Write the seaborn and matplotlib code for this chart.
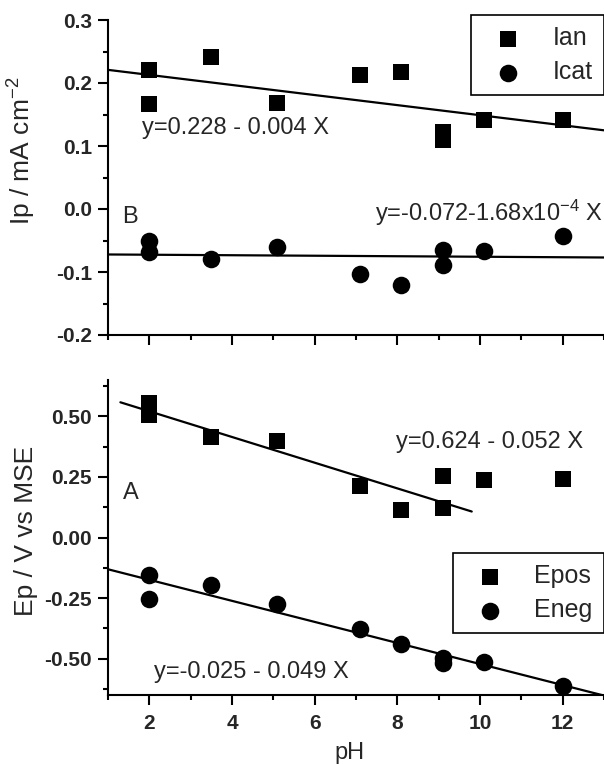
import numpy as np
import pandas as pd
import seaborn as sns
import matplotlib.pyplot as plt
from matplotlib.ticker import MultipleLocator, AutoMinorLocator, FormatStrFormatter

# pH values (same for all four series)
ph = np.array([2, 2, 3.5, 5.1, 7.1, 8.1, 9.1, 9.1, 10.1, 12])

# panel B: peak currents, mA cm-2
ian = np.array([0.221, 0.167, 0.241, 0.169, 0.213, 0.218, 0.123, 0.110, 0.141, 0.141])
icat = np.array([-0.050, -0.068, -0.080, -0.060, -0.103, -0.121, -0.065, -0.089, -0.066, -0.043])

# panel A: peak potentials, V vs MSE
epos = np.array([0.555, 0.507, 0.415, 0.397, 0.214, 0.112, 0.255, 0.121, 0.236, 0.241])
eneg = np.array([-0.154, -0.255, -0.195, -0.274, -0.378, -0.439, -0.498, -0.517, -0.512, -0.613])

# Epos fit only uses the points up to pH 9.1
epos_fit_max_ph = 9.1

eq_ian = "y=0.228 - 0.004 X"
eq_icat = "y=-0.072-1.68x10$^{-4}$ X"
eq_epos = "y=0.624 - 0.052 X"
eq_eneg = "y=-0.025 - 0.049 X"

sns.set_style('ticks')
plt.rcParams['font.family'] = ['Liberation Sans', 'DejaVu Sans']
plt.rcParams['mathtext.default'] = 'regular'
plt.rcParams['axes.unicode_minus'] = False
plt.rcParams['axes.linewidth'] = 1.5
plt.rcParams['axes.edgecolor'] = 'black'

W, H = 604, 765
fig = plt.figure(figsize=(W / 100, H / 100), dpi=100)
ax1 = fig.add_axes([108 / W, 1 - 335 / H, 496 / W, 315 / H])
ax2 = fig.add_axes([108 / W, 1 - 695 / H, 496 / W, 315 / H])

for ax in (ax1, ax2):
    ax.set_xlim(1, 13)
ax1.set_ylim(-0.2, 0.3)
ax2.set_ylim(-0.65, 0.65)

line_kws = {'color': 'black', 'lw': 1.6}
sq = 125
ci_s = 160

# --- panel B (top)
sns.regplot(x=ph, y=ian, scatter=False, ci=None, truncate=False, ax=ax1, line_kws=line_kws)
sns.regplot(x=ph, y=icat, scatter=False, ci=None, truncate=False, ax=ax1, line_kws=line_kws)
sns.scatterplot(x=ph, y=ian, marker='s', s=sq, color='black', linewidth=0, ax=ax1, label='Ian', zorder=3)
sns.scatterplot(x=ph, y=icat, marker='o', s=ci_s, color='black', linewidth=0, ax=ax1, label='Icat', zorder=3)

# --- panel A (bottom)
mask = ph <= epos_fit_max_ph
coef = np.polyfit(ph[mask], epos[mask], 1)
xs = np.array([1.3, 9.8])
ax2.plot(xs, np.polyval(coef, xs), **line_kws)
sns.regplot(x=ph, y=eneg, scatter=False, ci=None, truncate=False, ax=ax2, line_kws=line_kws)
sns.scatterplot(x=ph, y=epos, marker='s', s=sq, color='black', linewidth=0, ax=ax2, label='Epos', zorder=3)
sns.scatterplot(x=ph, y=eneg, marker='o', s=ci_s, color='black', linewidth=0, ax=ax2, label='Eneg', zorder=3)

for ax in (ax1, ax2):
    ax.set_xlim(1, 13)
ax1.set_ylim(-0.2, 0.3)
ax2.set_ylim(-0.65, 0.65)

ax1.yaxis.set_major_locator(MultipleLocator(0.1))
ax1.yaxis.set_major_formatter(FormatStrFormatter('%.1f'))
ax2.yaxis.set_major_locator(MultipleLocator(0.25))
ax2.yaxis.set_major_formatter(FormatStrFormatter('%.2f'))
for ax in (ax1, ax2):
    ax.xaxis.set_major_locator(MultipleLocator(2))
    ax.xaxis.set_minor_locator(AutoMinorLocator(2))
    ax.yaxis.set_minor_locator(AutoMinorLocator(2))
    ax.tick_params(which='major', direction='out', length=7.5, width=1.5, labelsize=15, color='black')
    ax.tick_params(which='minor', direction='out', length=3.6, width=1.5, color='black')
    ax.tick_params(axis='y', which='major', pad=4)
    ax.tick_params(axis='x', which='major', pad=6)
    sns.despine(ax=ax)
    plt.setp(ax.get_xticklabels(), fontweight='bold')
    plt.setp(ax.get_yticklabels(), fontweight='bold')
ax1.tick_params(labelbottom=False)

ax1.set_ylabel('Ip / mA cm$^{-2}$', fontsize=19)
ax1.yaxis.set_label_coords(-0.1405, 0.584)
ax2.set_ylabel('Ep / V vs MSE', fontsize=19)
ax2.yaxis.set_label_coords(-0.1405, 0.522)
ax2.set_xlabel('pH', fontsize=17)
ax2.xaxis.set_label_coords(0.487, -0.148)

txt = {'fontsize': 17, 'va': 'center', 'ha': 'left'}
ax1.text(1.83, 0.129, eq_ian, **txt)
ax1.text(1.35, -0.013, 'B', **txt)
ax1.text(12.96, -0.006, eq_icat, **{**txt, 'ha': 'right'})
ax2.text(7.97, 0.395, eq_epos, **txt)
ax2.text(1.36, 0.184, 'A', **txt)
ax2.text(2.11, -0.554, eq_eneg, **txt)

leg_kw = dict(loc='upper right', borderaxespad=0, frameon=True, fancybox=False,
              edgecolor='black', framealpha=1, fontsize=18, handlelength=2.0,
              handletextpad=0.8, borderpad=0.45, labelspacing=0.4)
leg1 = ax1.legend(bbox_to_anchor=(1.0, 1.016), **leg_kw)
leg2 = ax2.legend(bbox_to_anchor=(1.0, 0.451), **leg_kw)
for leg in (leg1, leg2):
    leg.get_frame().set_linewidth(1.2)

fig.savefig('out.png', dpi=100)
